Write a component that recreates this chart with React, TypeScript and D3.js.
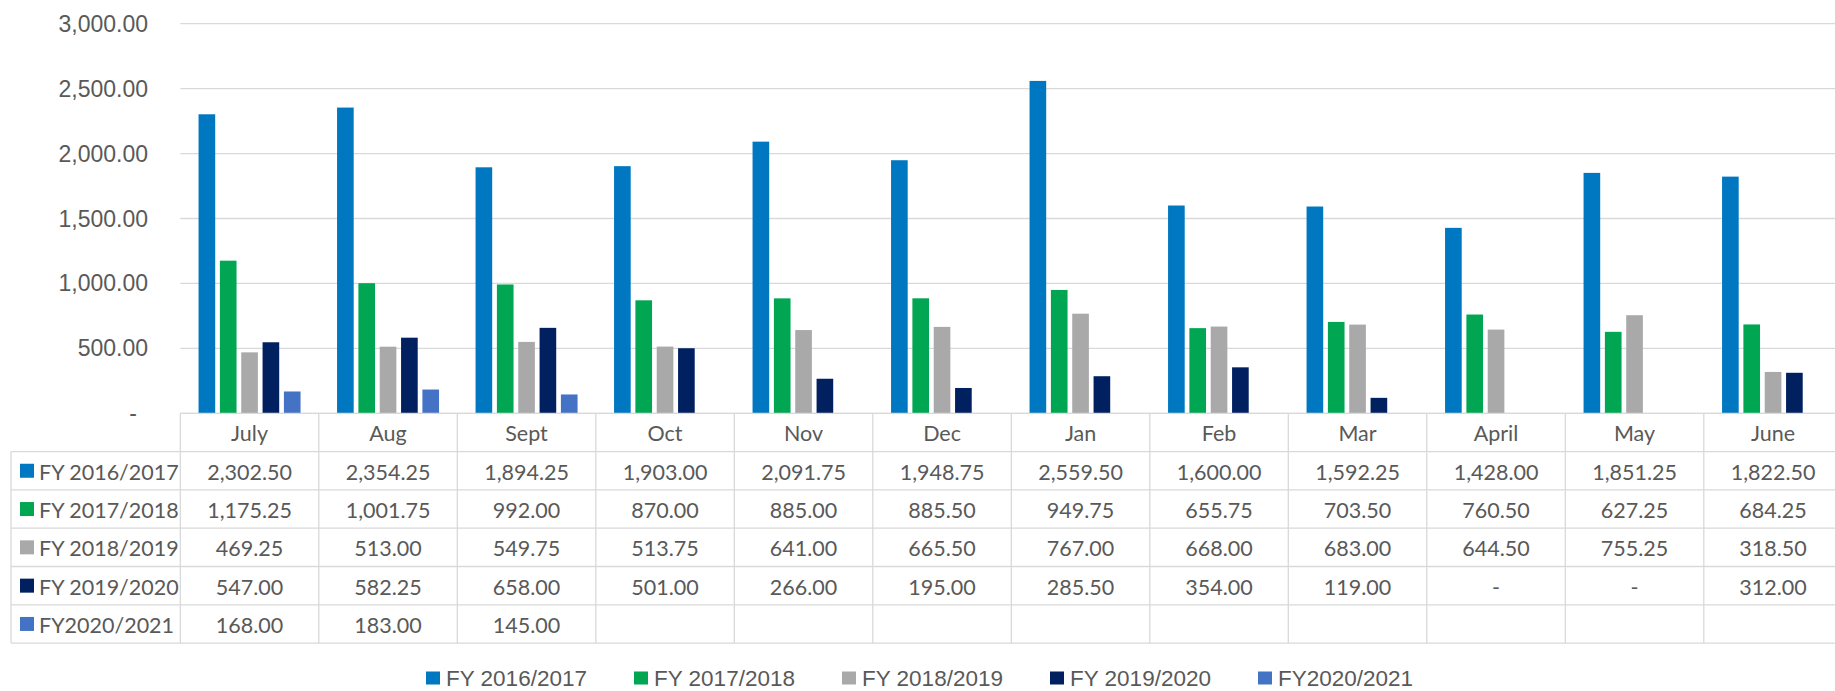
import * as d3 from "d3";

const months = ["July", "Aug", "Sept", "Oct", "Nov", "Dec", "Jan", "Feb", "Mar", "April", "May", "June"];
const seriesNames = ["FY 2016/2017", "FY 2017/2018", "FY 2018/2019", "FY 2019/2020", "FY2020/2021"];
const seriesColors = ["#0078C1", "#00A651", "#A9A9A9", "#002060", "#4472C4"];

// null = blank cell in the table, 0 shown as "-"
const fy1617 = [2302.5, 2354.25, 1894.25, 1903.0, 2091.75, 1948.75, 2559.5, 1600.0, 1592.25, 1428.0, 1851.25, 1822.5];
const fy1718 = [1175.25, 1001.75, 992.0, 870.0, 885.0, 885.5, 949.75, 655.75, 703.5, 760.5, 627.25, 684.25];
const fy1819 = [469.25, 513.0, 549.75, 513.75, 641.0, 665.5, 767.0, 668.0, 683.0, 644.5, 755.25, 318.5];
const fy1920 = [547.0, 582.25, 658.0, 501.0, 266.0, 195.0, 285.5, 354.0, 119.0, 0, 0, 312.0];
const fy2021: (number | null)[] = [168.0, 183.0, 145.0, null, null, null, null, null, null, null, null, null];

const yTicks = [0, 500, 1000, 1500, 2000, 2500, 3000];

const seriesValues: (number | null)[][] = [fy1617, fy1718, fy1819, fy1920, fy2021];

const W = 1835;
const H = 691;
const plotLeft = 180.3;
const colW = 138.5;
const plotTop = 23.7;
const plotBottom = 413.3;
const rowH = 38.3;
const grid = "#D9D9D9";
const textColor = "#595959";
const tableFont = "Lato, 'Open Sans', sans-serif";
const axisFont = "'Liberation Sans', Arial, sans-serif";

const fmt = d3.format(",.2f");
const cellText = (v: number | null) => (v === null ? "" : v === 0 ? "-" : fmt(v));

export default function App() {
  const x0 = d3
    .scaleBand<string>()
    .domain(months)
    .range([plotLeft, plotLeft + colW * months.length]);

  const x1 = d3
    .scaleBand<string>()
    .domain(seriesNames)
    .range([colW / 2 - 51, colW / 2 + 51])
    .paddingInner(0.22);

  const y = d3.scaleLinear().domain([0, 3000]).range([plotBottom, plotTop]);

  const tableTop = plotBottom;
  const bodyTop = tableTop + rowH;
  const tableBottom = bodyTop + rowH * seriesNames.length;

  const legendStep = 208;
  const legendX = 426;
  const legendY = 678;

  return (
    <svg width={W} height={H} style={{ position: "absolute", left: 0, top: 0, background: "#fff" }}>
      {/* gridlines */}
      {yTicks.map((t) => (
        <line key={t} x1={plotLeft} x2={W} y1={y(t)} y2={y(t)} stroke={grid} strokeWidth={1.3} />
      ))}
      {/* y labels */}
      {yTicks.map((t) => (
        <text
          key={"l" + t}
          x={t === 0 ? 137 : 148}
          y={y(t)}
          textAnchor="end"
          dominantBaseline="central"
          fontFamily={axisFont}
          fontSize={23}
          fill={textColor}
        >
          {t === 0 ? "-" : fmt(t)}
        </text>
      ))}

      {/* bars */}
      {seriesValues.map((vals, si) => (
        <g key={si} fill={seriesColors[si]}>
          {vals.map((v, mi) =>
            v === null || v === 0 ? null : (
              <rect
                key={mi}
                x={(x0(months[mi]) as number) + (x1(seriesNames[si]) as number)}
                y={y(v)}
                width={x1.bandwidth()}
                height={y(0) - y(v)}
              />
            )
          )}
        </g>
      ))}

      {/* data table */}
      <g stroke={grid} strokeWidth={1.3}>
        <line x1={plotLeft} x2={W} y1={tableTop} y2={tableTop} />
        {d3.range(seriesNames.length + 1).map((i) => (
          <line key={"h" + i} x1={11} x2={W} y1={bodyTop + i * rowH} y2={bodyTop + i * rowH} />
        ))}
        <line x1={11} x2={11} y1={bodyTop} y2={tableBottom} />
        {d3.range(months.length + 1).map((i) => (
          <line
            key={"v" + i}
            x1={plotLeft + i * colW}
            x2={plotLeft + i * colW}
            y1={tableTop}
            y2={tableBottom}
          />
        ))}
      </g>
      {months.map((m) => (
        <text
          key={m}
          x={(x0(m) as number) + colW / 2}
          y={tableTop + rowH / 2 + 1}
          textAnchor="middle"
          dominantBaseline="central"
          fontFamily={tableFont}
          fontSize={21.5}
          fill={textColor}
        >
          {m}
        </text>
      ))}
      {seriesNames.map((s, si) => {
        const cy = bodyTop + si * rowH + rowH / 2;
        return (
          <g key={s}>
            <rect x={20} y={cy - 7} width={14} height={14} fill={seriesColors[si]} />
            <text
              x={39}
              y={cy + 1}
              dominantBaseline="central"
              fontFamily={tableFont}
              fontSize={21.5}
              fill={textColor}
            >
              {s}
            </text>
            {seriesValues[si].map((v, mi) => (
              <text
                key={mi}
                x={(x0(months[mi]) as number) + colW / 2}
                y={cy + 1}
                textAnchor="middle"
                dominantBaseline="central"
                fontFamily={tableFont}
                fontSize={21.5}
                fill={textColor}
              >
                {cellText(v)}
              </text>
            ))}
          </g>
        );
      })}

      {/* legend */}
      {seriesNames.map((s, si) => (
        <g key={"lg" + s} transform={`translate(${legendX + si * legendStep},${legendY})`}>
          <rect x={0} y={-6.5} width={14} height={13} fill={seriesColors[si]} />
          <text
            x={20}
            y={0}
            dominantBaseline="central"
            fontFamily={axisFont}
            fontSize={22.5}
            fill={textColor}
          >
            {s}
          </text>
        </g>
      ))}
    </svg>
  );
}
